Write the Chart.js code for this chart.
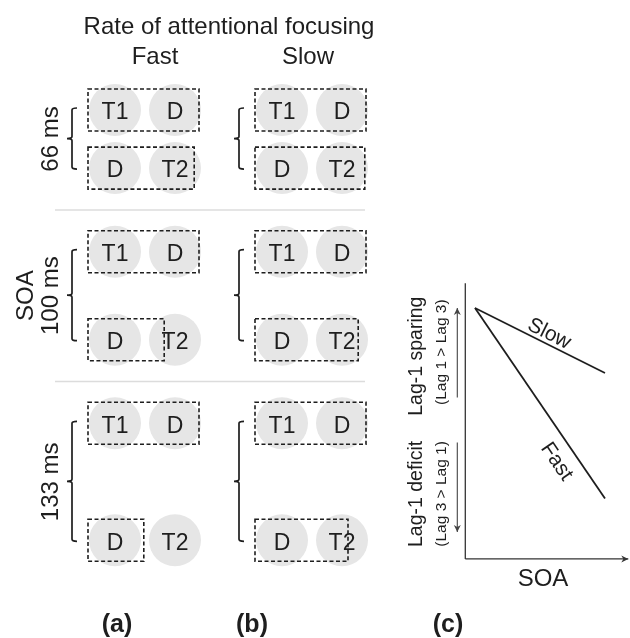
<!DOCTYPE html>
<html>
<head>
<meta charset="utf-8">
<script src="https://cdn.jsdelivr.net/npm/chart.js@4/dist/chart.umd.min.js"></script>
<style>
  html, body { margin: 0; padding: 0; background: #ffffff; }
  #wrap { position: relative; width: 630px; height: 638px; }
  canvas { display: block; }
</style>
</head>
<body>
<div id="wrap"><canvas id="chart" width="630" height="638"></canvas></div>
<script>
// ---- data -------------------------------------------------------------
const focusRates = ['Fast', 'Slow'];
const soaLabels = ['66 ms', '100 ms', '133 ms'];
const soaValues = [66, 100, 133];
const firstPair = ['T1', 'D'];
const secondPair = ['D', 'T2'];
// right edge of each attentional window, in item slots (first item = 0, second = 1)
const firstWindowEnd = [1.40, 1.40];
const secondWindowEndFast = [1.32, 0.82, 0.48];
const secondWindowEndSlow = [1.38, 1.27, 1.10];
// panel (c): lag-1 sparing as a function of SOA
const sparingSoa = [66, 133];
const sparingSlow = [1.0, 0.42];
const sparingFast = [1.0, -0.70];
const panelLabels = ['(a)', '(b)', '(c)'];

// ---- layout -----------------------------------------------------------
const W = 630, H = 638;
const SLOT_PX = 60;             // spacing of neighbouring stream items
const FIRST_ITEM_PX = 115;      // horizontal centre of the first Fast item
const COLUMN_GAP = 167 / SLOT_PX;
const MS_PX = 0.88;             // vertical pixels per ms of SOA
const ROW_TOP_MS = 125;
const ROW_GAP_MS = 95;
const WINDOW_LEFT = -0.45;
const BOX_HALF = 21;
const ITEM_RADIUS = 26;

const C_SOA_REF = 66, C_SOA_PX = 475, C_MS_PX = 130 / 67;
const C_ZERO_PX = 420, C_UNIT_PX = 112;
const C_AXIS_SOA = 61, C_AXIS_END_SOA = 145;
const C_AXIS_LOW = -1.24, C_AXIS_TOP = 1.22;

const FONT = '"Liberation Sans", Arial, Helvetica, sans-serif';
const INK = '#1e1e1e';

const rowStart = [];
soaValues.reduce((t, soa) => { rowStart.push(t); return t + soa + ROW_GAP_MS; }, ROW_TOP_MS);

const circlePoints = [];
focusRates.forEach((rate, c) => {
  soaValues.forEach((soa, r) => {
    firstPair.forEach((name, k) => circlePoints.push({ x: c * COLUMN_GAP + k, y: rowStart[r], label: name }));
    secondPair.forEach((name, k) => circlePoints.push({ x: c * COLUMN_GAP + k, y: rowStart[r] + soa, label: name }));
  });
});

const toPoints = (xs, ys) => xs.map((x, i) => ({ x, y: ys[i] }));

// ---- drawing helpers --------------------------------------------------
function label(ctx, str, x, y, size, opts = {}) {
  ctx.save();
  ctx.translate(x, y);
  if (opts.rotate) ctx.rotate(opts.rotate);
  ctx.font = (opts.bold ? 'bold ' : '') + size + 'px ' + FONT;
  ctx.fillStyle = opts.color || INK;
  ctx.textAlign = 'center';
  ctx.textBaseline = 'alphabetic';
  ctx.fillText(str, 0, size * 0.36);
  ctx.restore();
}

function dashedRect(ctx, x0, y0, x1, y1) {
  ctx.save();
  ctx.strokeStyle = INK;
  ctx.lineWidth = 1.6;
  ctx.setLineDash([4, 2.5]);
  ctx.strokeRect(x0, y0, x1 - x0, y1 - y0);
  ctx.restore();
}

function brace(ctx, x, y0, y1) {
  const mid = (y0 + y1) / 2;
  ctx.save();
  ctx.strokeStyle = INK;
  ctx.lineWidth = 1.7;
  ctx.beginPath();
  ctx.moveTo(x + 5, y0);
  ctx.quadraticCurveTo(x, y0, x, y0 + 2);
  ctx.lineTo(x, mid - 2);
  ctx.quadraticCurveTo(x, mid, x - 5, mid);
  ctx.quadraticCurveTo(x, mid, x, mid + 2);
  ctx.lineTo(x, y1 - 2);
  ctx.quadraticCurveTo(x, y1, x + 5, y1);
  ctx.stroke();
  ctx.restore();
}

function arrow(ctx, x0, y0, x1, y1, color, width, head) {
  const a = Math.atan2(y1 - y0, x1 - x0);
  ctx.save();
  ctx.strokeStyle = color;
  ctx.fillStyle = color;
  ctx.lineWidth = width;
  ctx.beginPath();
  ctx.moveTo(x0, y0);
  ctx.lineTo(x1, y1);
  ctx.stroke();
  ctx.beginPath();
  ctx.moveTo(x1, y1);
  ctx.lineTo(x1 - head * Math.cos(a) + head * 0.5 * Math.sin(a), y1 - head * Math.sin(a) - head * 0.5 * Math.cos(a));
  ctx.lineTo(x1 - head * 0.7 * Math.cos(a), y1 - head * 0.7 * Math.sin(a));
  ctx.lineTo(x1 - head * Math.cos(a) - head * 0.5 * Math.sin(a), y1 - head * Math.sin(a) + head * 0.5 * Math.cos(a));
  ctx.closePath();
  ctx.fill();
  ctx.restore();
}

function lineLabel(ctx, chart, dsIndex, str, t, offset, size) {
  const pts = chart.getDatasetMeta(dsIndex).data;
  const p0 = pts[0], p1 = pts[pts.length - 1];
  const dx = p1.x - p0.x, dy = p1.y - p0.y;
  const len = Math.hypot(dx, dy);
  const nx = dy / len, ny = -dx / len;
  const x = p0.x + dx * t + nx * offset;
  const y = p0.y + dy * t + ny * offset;
  label(ctx, str, x, y, size, { rotate: Math.atan2(dy, dx) });
}

// ---- annotation plugin ------------------------------------------------
const diagram = {
  id: 'diagram',
  afterDatasetsDraw(chart) {
    const ctx = chart.ctx;
    const { gx, gy, sx, sy } = chart.scales;

    // item names on the grey discs
    chart.getDatasetMeta(0).data.forEach((el, i) => label(ctx, circlePoints[i].label, el.x, el.y + 1, 23));

    // attentional windows and SOA braces
    focusRates.forEach((rate, c) => {
      const ends = rate === 'Fast' ? secondWindowEndFast : secondWindowEndSlow;
      const base = c * COLUMN_GAP;
      soaValues.forEach((soa, r) => {
        const yA = gy.getPixelForValue(rowStart[r]);
        const yB = gy.getPixelForValue(rowStart[r] + soa);
        const left = gx.getPixelForValue(base + WINDOW_LEFT);
        dashedRect(ctx, left, yA - BOX_HALF, gx.getPixelForValue(base + firstWindowEnd[c]), yA + BOX_HALF);
        dashedRect(ctx, left, yB - BOX_HALF, gx.getPixelForValue(base + ends[r]), yB + BOX_HALF);
        brace(ctx, gx.getPixelForValue(base) - 43, yA - 2, yB + 1);
      });
    });

    // SOA row labels and separators
    soaValues.forEach((soa, r) => {
      const yMid = gy.getPixelForValue(rowStart[r] + soa / 2);
      label(ctx, soaLabels[r], 49, yMid, 24, { rotate: -Math.PI / 2 });
      if (r < soaValues.length - 1) {
        const ySep = gy.getPixelForValue((rowStart[r] + soa + rowStart[r + 1]) / 2);
        ctx.save();
        ctx.strokeStyle = '#dcdcdc';
        ctx.lineWidth = 1.5;
        ctx.beginPath();
        ctx.moveTo(55, ySep);
        ctx.lineTo(365, ySep);
        ctx.stroke();
        ctx.restore();
      }
    });
    label(ctx, 'SOA', 24, gy.getPixelForValue(rowStart[1] + soaValues[1] / 2), 24, { rotate: -Math.PI / 2 });

    // column headings
    label(ctx, 'Rate of attentional focusing', 229, 25, 24);
    label(ctx, focusRates[0], 155, 55, 24);
    label(ctx, focusRates[1], 308, 55, 24);

    // panel (c) axes
    const ax = sx.getPixelForValue(C_AXIS_SOA);
    const ay = sy.getPixelForValue(C_AXIS_LOW);
    ctx.save();
    ctx.strokeStyle = '#333333';
    ctx.lineWidth = 1.3;
    ctx.beginPath();
    ctx.moveTo(ax, sy.getPixelForValue(C_AXIS_TOP));
    ctx.lineTo(ax, ay);
    ctx.stroke();
    ctx.restore();
    arrow(ctx, ax, ay, sx.getPixelForValue(C_AXIS_END_SOA), ay, '#333333', 1.3, 7);
    label(ctx, 'SOA', 543, 577, 24);

    // sparing / deficit arrows
    const arrX = ax - 8;
    arrow(ctx, arrX, sy.getPixelForValue(0.2), arrX, sy.getPixelForValue(1.0), '#444444', 1.1, 7);
    arrow(ctx, arrX, sy.getPixelForValue(-0.2), arrX, sy.getPixelForValue(-1.0), '#444444', 1.1, 7);
    const upMid = sy.getPixelForValue(0.57), downMid = sy.getPixelForValue(-0.66);
    label(ctx, 'Lag-1 sparing', ax - 50, upMid, 19.5, { rotate: -Math.PI / 2 });
    label(ctx, '(Lag 1 > Lag 3)', ax - 25, upMid - 4, 15.5, { rotate: -Math.PI / 2 });
    label(ctx, 'Lag-1 deficit', ax - 50, downMid, 19.5, { rotate: -Math.PI / 2 });
    label(ctx, '(Lag 3 > Lag 1)', ax - 25, downMid, 15.5, { rotate: -Math.PI / 2 });

    // line names
    lineLabel(ctx, chart, 1, 'Slow', 0.536, 11.7, 21);
    lineLabel(ctx, chart, 2, 'Fast', 0.75, -17.5, 21);

    // panel letters
    label(ctx, panelLabels[0], 117, 623, 25, { bold: true });
    label(ctx, panelLabels[1], 252, 623, 25, { bold: true });
    label(ctx, panelLabels[2], 448, 623, 25, { bold: true });
  }
};

// ---- chart ------------------------------------------------------------
const gxMin = -FIRST_ITEM_PX / SLOT_PX;
const sxMin = C_SOA_REF - C_SOA_PX / C_MS_PX;
const syMax = C_ZERO_PX / C_UNIT_PX;

new Chart(document.getElementById('chart'), {
  type: 'bubble',
  data: {
    datasets: [
      {
        label: 'items',
        data: circlePoints,
        xAxisID: 'gx', yAxisID: 'gy',
        radius: ITEM_RADIUS,
        backgroundColor: '#e6e6e6',
        borderWidth: 0
      },
      {
        type: 'line', label: 'Slow',
        data: toPoints(sparingSoa, sparingSlow),
        xAxisID: 'sx', yAxisID: 'sy',
        borderColor: INK, borderWidth: 1.8, pointRadius: 0, tension: 0, fill: false
      },
      {
        type: 'line', label: 'Fast',
        data: toPoints(sparingSoa, sparingFast),
        xAxisID: 'sx', yAxisID: 'sy',
        borderColor: INK, borderWidth: 1.8, pointRadius: 0, tension: 0, fill: false
      }
    ]
  },
  options: {
    responsive: false,
    animation: false,
    events: [],
    devicePixelRatio: 1,
    layout: { padding: 0, autoPadding: false },
    plugins: { legend: { display: false }, tooltip: { enabled: false } },
    scales: {
      gx: { type: 'linear', display: false, bounds: 'data', min: gxMin, max: gxMin + W / SLOT_PX },
      gy: { type: 'linear', display: false, bounds: 'data', reverse: true, min: 0, max: H / MS_PX },
      sx: { type: 'linear', display: false, bounds: 'data', min: sxMin, max: sxMin + W / C_MS_PX },
      sy: { type: 'linear', display: false, bounds: 'data', min: syMax - H / C_UNIT_PX, max: syMax }
    }
  },
  plugins: [diagram]
});
</script>
</body>
</html>
